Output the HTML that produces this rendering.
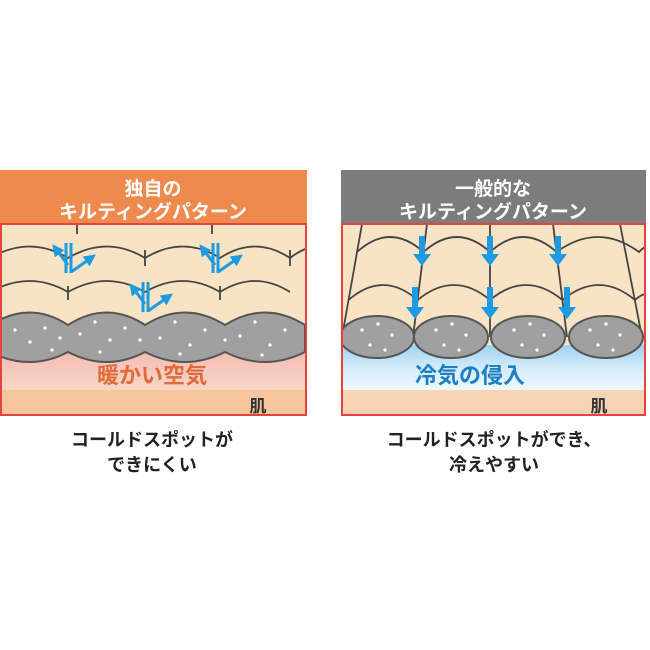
<!DOCTYPE html>
<html><head><meta charset="utf-8"><style>
body{margin:0;background:#fff;width:650px;height:650px;overflow:hidden}
svg{display:block}
text{font-family:"Liberation Sans","Noto Sans CJK JP",sans-serif;font-weight:bold}
</style></head><body>
<svg width="650" height="650" viewBox="0 0 650 650">
<defs>
<linearGradient id="pink" x1="0" y1="0" x2="0" y2="1">
<stop offset="0" stop-color="#f3b6ab"/><stop offset="0.5" stop-color="#f6c7bc"/><stop offset="1" stop-color="#f8d6c6"/></linearGradient>
<linearGradient id="blue" x1="0" y1="0" x2="0" y2="1">
<stop offset="0" stop-color="#9fd1f1"/><stop offset="0.5" stop-color="#d3ebf9"/><stop offset="1" stop-color="#eef7fd"/></linearGradient>
<marker id="ah" viewBox="0 0 10 10" refX="5" refY="5" markerWidth="4" markerHeight="4" orient="auto"><path d="M0,0L10,5L0,10z" fill="#1d9ae0"/></marker>
<clipPath id="cl"><rect x="1" y="224" width="305" height="191"/></clipPath>
<clipPath id="cr"><rect x="342" y="224" width="303" height="191"/></clipPath>
</defs>
<!-- LEFT -->
<rect x="0" y="170" width="307" height="53" fill="#ef8a4f"/>
<text x="153" y="195" font-size="19" fill="#fff" text-anchor="middle">独自の</text>
<text x="153" y="218" font-size="19" fill="#fff" text-anchor="middle">キルティングパターン</text>
<g clip-path="url(#cl)">
<rect x="0" y="223" width="307" height="192" fill="#f8e3c5"/>
<rect x="0" y="345" width="307" height="45" fill="url(#pink)"/>
<rect x="0" y="390" width="307" height="25" fill="#f5c59b"/>
<g fill="none" stroke="#444" stroke-width="1.8">
<path d="M-10,258 Q30,235 68,258 Q107,235 145,258 Q183,235 220,258 Q255,235 290,258 Q320,235 340,258"/>
<path d="M-10,292 Q30,270 68,292 Q107,270 145,292 Q183,270 220,292 Q255,270 290,292"/>
<path d="M77,224v10M212,224v10M145,250v16M290,250v16M68,286v14M220,286v14"/>
</g>
<path d="M-10,325 Q30,300 68,325 Q107,300 145,325 Q185,300 225,325 Q265,300 305,325 L305,352 Q265,372 225,352 Q185,372 145,352 Q107,372 68,352 Q30,372 -10,352 Z" fill="#a0a0a0" stroke="#555" stroke-width="2"/>
<g fill="#fff">
<circle cx="15" cy="330" r="1.6"/><circle cx="30" cy="342" r="1.6"/><circle cx="45" cy="328" r="1.6"/><circle cx="52" cy="350" r="1.6"/><circle cx="80" cy="334" r="1.6"/><circle cx="95" cy="322" r="1.6"/><circle cx="110" cy="340" r="1.6"/><circle cx="125" cy="328" r="1.6"/><circle cx="100" cy="352" r="1.6"/><circle cx="160" cy="338" r="1.6"/><circle cx="175" cy="322" r="1.6"/><circle cx="190" cy="345" r="1.6"/><circle cx="205" cy="330" r="1.6"/><circle cx="180" cy="354" r="1.6"/><circle cx="240" cy="336" r="1.6"/><circle cx="255" cy="322" r="1.6"/><circle cx="270" cy="345" r="1.6"/><circle cx="285" cy="330" r="1.6"/><circle cx="262" cy="355" r="1.6"/><circle cx="140" cy="340" r="1.6"/><circle cx="60" cy="338" r="1.6"/><circle cx="225" cy="340" r="1.6"/>
</g>
<g stroke="#1d9ae0" stroke-width="3" fill="none">
<path d="M66,243v30M71,243v30"/><path d="M68,265l-12,-16" marker-end="url(#ah)"/><path d="M71,272l20,-14" marker-end="url(#ah)"/>
<path d="M213,243v30M218,243v30"/><path d="M215,265l-12,-16" marker-end="url(#ah)"/><path d="M218,272l20,-14" marker-end="url(#ah)"/>
<path d="M143,282v30M148,282v30"/><path d="M145,304l-12,-16" marker-end="url(#ah)"/><path d="M148,311l20,-14" marker-end="url(#ah)"/>
</g>
<text x="152" y="383" font-size="22" fill="#e06a3a" text-anchor="middle">暖かい空気</text>
<text x="258" y="412" font-size="17" fill="#333" text-anchor="middle" font-weight="normal">肌</text>
</g>
<rect x="1" y="224" width="305" height="191" fill="none" stroke="#e8423f" stroke-width="2"/>
<!-- RIGHT -->
<rect x="341" y="170" width="305" height="53" fill="#7c7c7c"/>
<text x="493" y="195" font-size="19" fill="#fff" text-anchor="middle">一般的な</text>
<text x="493" y="218" font-size="19" fill="#fff" text-anchor="middle">キルティングパターン</text>
<g clip-path="url(#cr)">
<rect x="341" y="223" width="305" height="192" fill="#f8e3c5"/>
<rect x="341" y="345" width="305" height="45" fill="url(#blue)"/>
<rect x="341" y="390" width="305" height="25" fill="#f5d5b5"/>
<g fill="none" stroke="#444" stroke-width="1.8">
<path d="M357,252 Q390,222 423.5,252 Q457,222 490,252 Q523,222 556.5,252 Q598,222 639,252 Q650,240 660,250"/>
<path d="M348.5,300 Q383,270 417.6,300 Q454,270 490,300 Q526,270 562.4,300 Q599,270 635,300 Q645,290 660,295"/>
<path d="M362,224 L342,337"/><path d="M427,224 L413,337"/><path d="M490,224 V337"/><path d="M553,224 L567,337"/><path d="M620,224 L642,337"/>
</g>
<g fill="#a0a0a0" stroke="#555" stroke-width="2">
<ellipse cx="377" cy="337" rx="37" ry="21"/><ellipse cx="451" cy="337" rx="37" ry="21"/><ellipse cx="528" cy="337" rx="37" ry="21"/><ellipse cx="606" cy="337" rx="37" ry="21"/>
</g>
<g fill="#fff">
<circle cx="362" cy="330" r="1.6"/><circle cx="378" cy="324" r="1.6"/><circle cx="392" cy="335" r="1.6"/><circle cx="370" cy="345" r="1.6"/><circle cx="385" cy="350" r="1.6"/>
<circle cx="436" cy="330" r="1.6"/><circle cx="452" cy="324" r="1.6"/><circle cx="466" cy="335" r="1.6"/><circle cx="444" cy="345" r="1.6"/><circle cx="459" cy="350" r="1.6"/>
<circle cx="514" cy="330" r="1.6"/><circle cx="530" cy="324" r="1.6"/><circle cx="544" cy="335" r="1.6"/><circle cx="522" cy="345" r="1.6"/><circle cx="537" cy="350" r="1.6"/>
<circle cx="590" cy="330" r="1.6"/><circle cx="606" cy="324" r="1.6"/><circle cx="620" cy="335" r="1.6"/><circle cx="598" cy="345" r="1.6"/><circle cx="613" cy="350" r="1.6"/>
</g>
<g fill="#1d9ae0">
<path d="M419,236h6v18h6l-9,12l-9,-12h6z"/><path d="M487,236h6v18h6l-9,12l-9,-12h6z"/><path d="M555,236h6v18h6l-9,12l-9,-12h6z"/>
<path d="M412,287h6v20h6l-9,12l-9,-12h6z"/><path d="M487,287h6v20h6l-9,12l-9,-12h6z"/><path d="M564,287h6v20h6l-9,12l-9,-12h6z"/>
</g>
<text x="470" y="383" font-size="22" fill="#1b7fc4" text-anchor="middle">冷気の侵入</text>
<text x="599" y="412" font-size="17" fill="#333" text-anchor="middle" font-weight="normal">肌</text>
</g>
<rect x="342" y="224" width="303" height="191" fill="none" stroke="#e8423f" stroke-width="2"/>
<!-- captions -->
<text x="152" y="446" font-size="18" fill="#222" text-anchor="middle" font-weight="normal">コールドスポットが</text>
<text x="152" y="471" font-size="18" fill="#222" text-anchor="middle" font-weight="normal">できにくい</text>
<text x="494" y="446" font-size="18" fill="#222" text-anchor="middle" font-weight="normal">コールドスポットができ、</text>
<text x="494" y="471" font-size="18" fill="#222" text-anchor="middle" font-weight="normal">冷えやすい</text>
</svg>
</body></html>
